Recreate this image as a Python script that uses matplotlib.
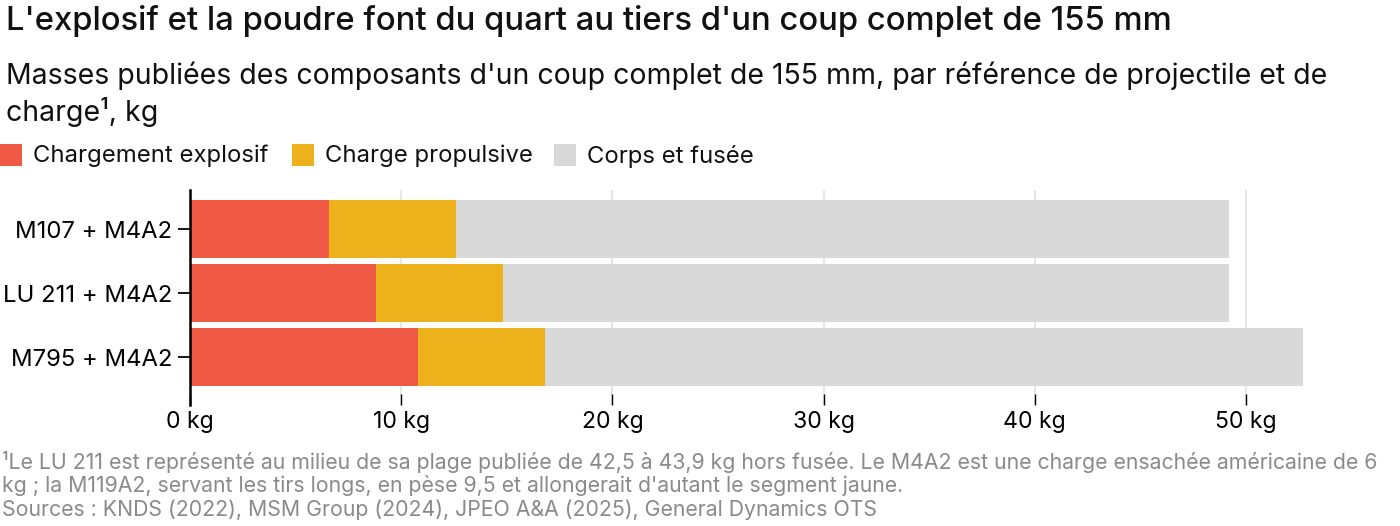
import matplotlib
matplotlib.use("Agg")
import matplotlib.pyplot as plt
import numpy as np
from matplotlib.patches import Rectangle

plt.rcParams["font.family"] = ["Inter", "DejaVu Sans"]

# données (kg)
rounds = ["M107 + M4A2", "LU 211 + M4A2", "M795 + M4A2"]
explosif = [6.6, 8.8, 10.8]
propulsive = [6.0, 6.0, 6.0]
corps = [36.6, 34.4, 35.9]
xticks = [0, 10, 20, 30, 40, 50]

series_names = ["Chargement explosif", "Charge propulsive", "Corps et fusée"]
colors = ["#F05A44", "#EDB21B", "#D9D9D9"]

W, H = 1400, 526
fig = plt.figure(figsize=(W / 100, H / 100), dpi=100)

def px(x, y):
    return x / W, 1 - y / H

# zone du graphique en pixels
xmax = 56
left, top, bottom = 190, 190, 405
right = left + xmax * 21.12
ax = fig.add_axes([left / W, 1 - bottom / H, (right - left) / W, (bottom - top) / H])

y = np.arange(len(rounds))
lefts = np.zeros(len(rounds))
for vals, c in zip([explosif, propulsive, corps], colors):
    ax.barh(y, vals, left=lefts, height=0.9, color=c, zorder=2)
    lefts = lefts + np.array(vals)

ax.set_xlim(0, xmax)
ax.set_ylim(2.75, -0.61)
ax.set_yticks(y)
ax.set_yticklabels(rounds, fontsize=17.2)
ax.set_xticks(xticks)
ax.set_xticklabels([f"{t} kg" for t in xticks], fontsize=16.6)
ax.tick_params(axis="y", length=8.6, width=1.3, pad=4, color="black")
ax.tick_params(axis="x", direction="in", length=8, width=1.0, pad=4, color="black")
ax.grid(axis="x", color="#E6E6E6", linewidth=1.5, zorder=0)
for s in ["top", "right", "bottom"]:
    ax.spines[s].set_visible(False)
ax.spines["left"].set_linewidth(1.8)
ax.spines["left"].set_zorder(3)

# titres
fig.text(*px(6, 21), "L'explosif et la poudre font du quart au tiers d'un coup complet de 155 mm",
         fontsize=23.6, fontweight="medium", va="center", ha="left", color="#111111")
fig.text(*px(6, 76), "Masses publiées des composants d'un coup complet de 155 mm, par référence de projectile et de",
         fontsize=20.5, va="center", ha="left", color="#111111")
fig.text(*px(6, 112), "charge¹, kg", fontsize=20.5, va="center", ha="left", color="#111111")

# légende
leg_x = [0, 292, 554]
for x0, name, c in zip(leg_x, series_names, colors):
    fig.patches.append(Rectangle(px(x0, 166), 22 / W, 22 / H, transform=fig.transFigure,
                                 facecolor=c, edgecolor="none"))
    fig.text(*px(x0 + 33, 156), name, fontsize=17.2, va="center", ha="left", color="#111111")

# notes
note_color = "#8A8A8A"
notes = [
    "¹Le LU 211 est représenté au milieu de sa plage publiée de 42,5 à 43,9 kg hors fusée. Le M4A2 est une charge ensachée américaine de 6",
    "kg ; la M119A2, servant les tirs longs, en pèse 9,5 et allongerait d'autant le segment jaune.",
    "Sources : KNDS (2022), MSM Group (2024), JPEO A&A (2025), General Dynamics OTS",
]
for i, line in enumerate(notes):
    fig.text(*px(2, 462 + 24 * i), line, fontsize=15.3, va="center", ha="left", color=note_color)

fig.savefig("out.png", dpi=100)
